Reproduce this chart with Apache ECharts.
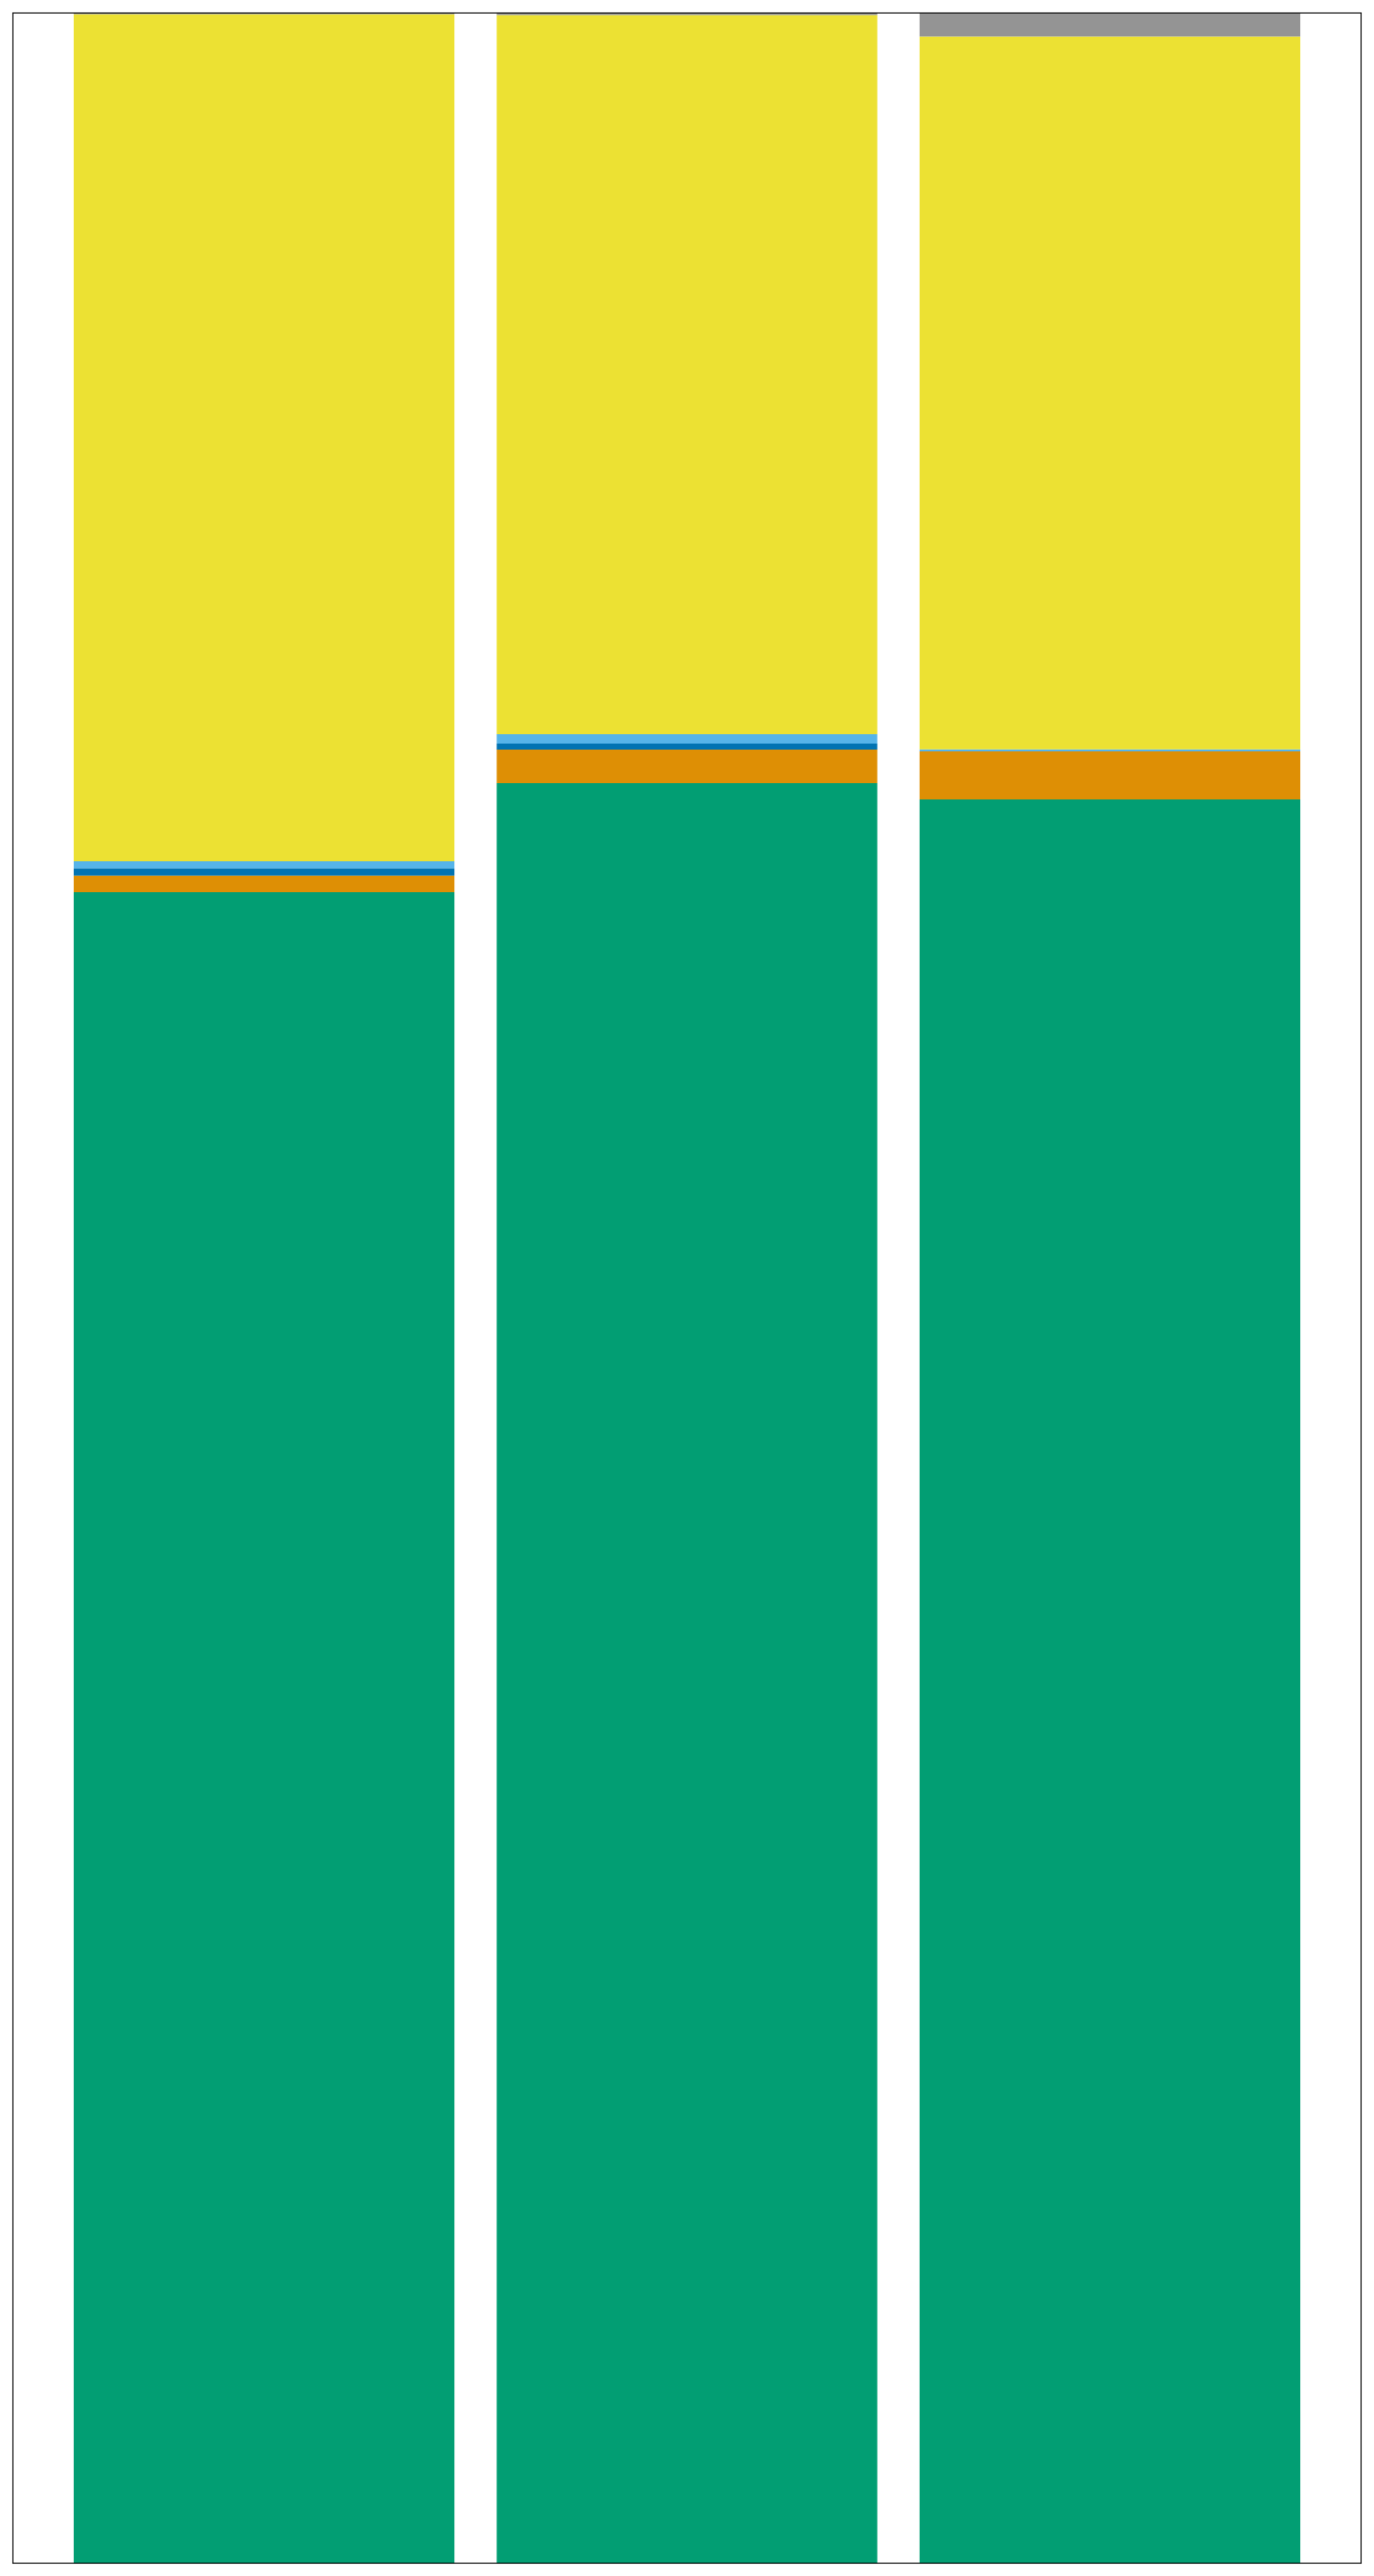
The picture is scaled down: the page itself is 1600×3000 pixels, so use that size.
<!DOCTYPE html>
<html>
<head>
<meta charset="utf-8">
<script src="https://cdn.jsdelivr.net/npm/echarts@6/dist/echarts.min.js"></script>
<style>html,body{margin:0;padding:0;background:#fff;}#chart{width:1600px;height:3000px;}</style>
</head>
<body>
<div id="chart"></div>
<script>
// Categories (no visible labels in the reference)
const categories = ['1', '2', '3'];
// Stacked shares in percent, bottom to top
const seriesNames = ['S1', 'S2', 'S3', 'S4', 'S5', 'S6'];
const greenValues     = [65.52, 69.80, 69.16];
const orangeValues    = [0.65, 1.31, 1.88];
const darkBlueValues  = [0.29, 0.24, 0.00];
const lightBlueValues = [0.27, 0.37, 0.08];
const yellowValues    = [33.22, 28.20, 27.95];
const grayValues      = [0.05, 0.08, 0.93];
const seriesValues = [greenValues, orangeValues, darkBlueValues, lightBlueValues, yellowValues, grayValues];
const colors = ['#029E73', '#DE8F05', '#0173B2', '#56B4E9', '#ECE133', '#949494'];

const chart = echarts.init(document.getElementById('chart'), null, {renderer: 'canvas'});
chart.setOption({
  animation: false,
  backgroundColor: '#ffffff',
  grid: {left: 61.25, right: 61.25, top: 15, bottom: 15, containLabel: false},
  xAxis: {
    type: 'category', data: categories,
    axisLine: {show: false}, axisTick: {show: false}, axisLabel: {show: false}, splitLine: {show: false}
  },
  yAxis: {
    type: 'value', min: 0, max: 100,
    axisLine: {show: false}, axisTick: {show: false}, axisLabel: {show: false}, splitLine: {show: false}
  },
  series: seriesValues.map((vals, i) => ({
    name: seriesNames[i],
    type: 'bar',
    stack: 'total',
    data: vals,
    barCategoryGap: '10%',
    itemStyle: {color: colors[i]},
    emphasis: {disabled: true}
  })),
  graphic: [{
    type: 'rect',
    z: 100,
    silent: true,
    shape: {x: 15, y: 15, width: 1570, height: 2970},
    style: {fill: null, stroke: '#000000', lineWidth: 1.25}
  }]
});
</script>
</body>
</html>
